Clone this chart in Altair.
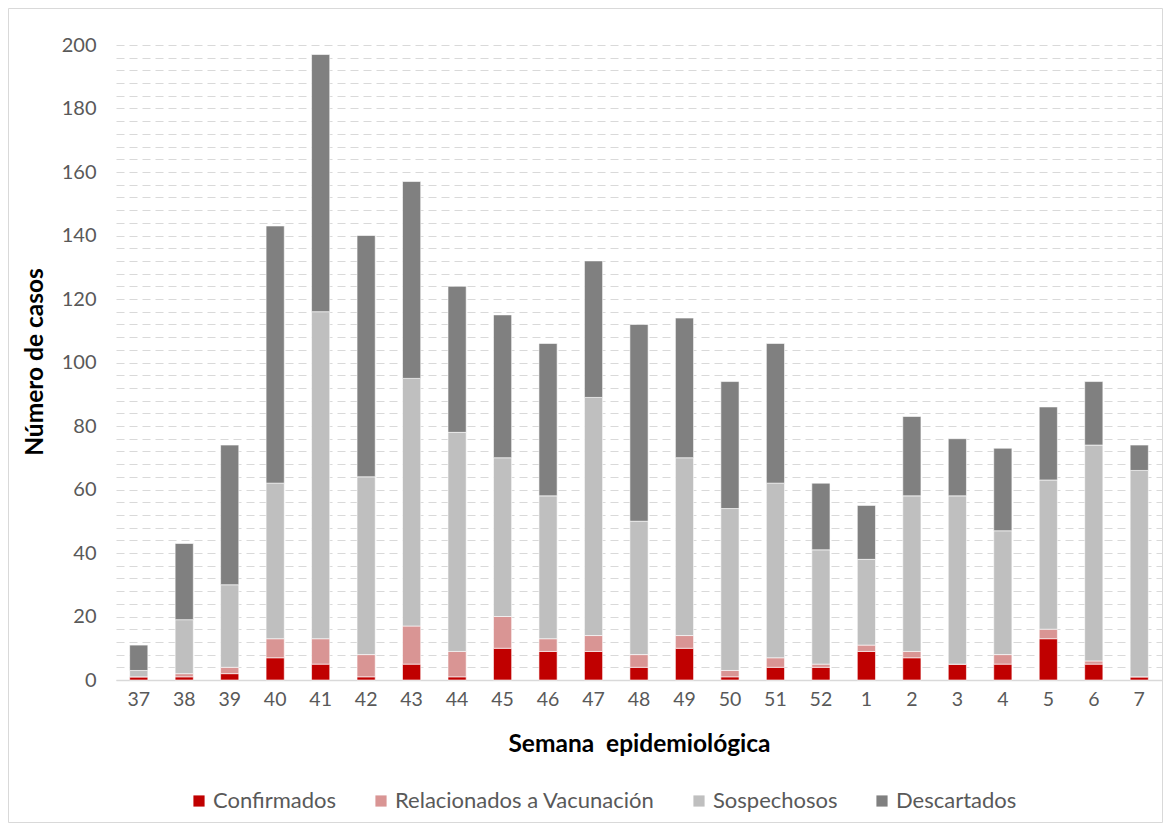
import altair as alt
import pandas as pd

weeks = ["37", "38", "39", "40", "41", "42", "43", "44", "45", "46", "47", "48",
         "49", "50", "51", "52", "1", "2", "3", "4", "5", "6", "7"]
confirmados = [1, 1, 2, 7, 5, 1, 5, 1, 10, 9, 9, 4, 10, 1, 4, 4, 9, 7, 5, 5, 13, 5, 1]
vacunacion = [0, 1, 2, 6, 8, 7, 12, 8, 10, 4, 5, 4, 4, 2, 3, 1, 2, 2, 0, 3, 3, 1, 0]
sospechosos = [2, 17, 26, 49, 103, 56, 78, 69, 50, 45, 75, 42, 56, 51, 55, 36, 27, 49, 53, 39, 47, 68, 65]
descartados = [8, 24, 44, 81, 81, 76, 62, 46, 45, 48, 43, 62, 44, 40, 44, 21, 17, 25, 18, 26, 23, 20, 8]

series = ["Confirmados", "Relacionados a Vacunación", "Sospechosos", "Descartados"]
colors = ["#c00000", "#d99594", "#bfbfbf", "#808080"]
y_ticks = list(range(0, 201, 4))

rows = []
for i, w in enumerate(weeks):
    for k, (name, vals) in enumerate(zip(series, [confirmados, vacunacion, sospechosos, descartados])):
        rows.append({"Semana": w, "Serie": name, "orden": k, "Casos": vals[i]})
df = pd.DataFrame(rows)

W, H = 1046, 635
PL, PT, PR, PB = 108, 37, 1, 143
FONT = "Lato"

frame = alt.Chart(alt.Data(values=[{}])).mark_rect(
    fill=None, stroke="#d9d9d9", strokeWidth=1
).encode(
    x=alt.value(-PL + 0.5), x2=alt.value(W + PR - 0.5),
    y=alt.value(-PT + 0.5), y2=alt.value(H + PB - 0.5),
)

bars = alt.Chart(df).mark_bar(stroke="white", strokeWidth=0.6).encode(
    x=alt.X("Semana:N", sort=weeks,
            scale=alt.Scale(paddingInner=0.6, paddingOuter=0.3),
            axis=alt.Axis(title="Semana\u00a0 epidemiológica", labelAngle=0, ticks=False,
                          labelPadding=10, labelFontSize=19.5, labelColor="#595959",
                          labelFont=FONT, titleFont=FONT, titleFontSize=24.5,
                          titleFontWeight="bold", titleColor="#000000", titlePadding=24,
                          domainColor="#d9d9d9", domainWidth=1.5, grid=False)),
    y=alt.Y("Casos:Q", stack="zero",
            scale=alt.Scale(domain=[0, 200], nice=False),
            axis=alt.Axis(title="Número de casos", values=y_ticks,
                          labelExpr="datum.value % 20 == 0 ? datum.label : ''",
                          ticks=False, domain=False, labelPadding=20,
                          labelFontSize=20, labelColor="#595959", labelFont=FONT,
                          titleFont=FONT, titleFontSize=24.5, titleFontWeight="bold",
                          titleColor="#000000", titleX=-81, titleY=H / 2 - 1,
                          titleAngle=270, titleAlign="center", titleBaseline="middle",
                          grid=True, gridColor="#d9d9d9", gridDash=[8, 5], gridWidth=1)),
    color=alt.Color("Serie:N", sort=series,
                    scale=alt.Scale(domain=series, range=colors),
                    legend=alt.Legend(title=None, orient="none", direction="horizontal",
                                      legendX=72, legendY=745, symbolType="square",
                                      symbolSize=125, symbolStrokeWidth=0,
                                      labelFontSize=22, labelColor="#595959",
                                      labelFont=FONT, labelOffset=3, labelLimit=0,
                                      columnPadding=33, padding=0)),
    order=alt.Order("orden:Q", sort="ascending"),
)

chart = alt.layer(frame, bars).properties(
    width=W, height=H,
    autosize=alt.AutoSizeParams(type="none"),
    padding={"left": PL, "top": PT, "right": PR, "bottom": PB},
    background="white",
).configure_view(stroke=None)

chart.save("out.html", embed_options={"renderer": "svg", "actions": False})
